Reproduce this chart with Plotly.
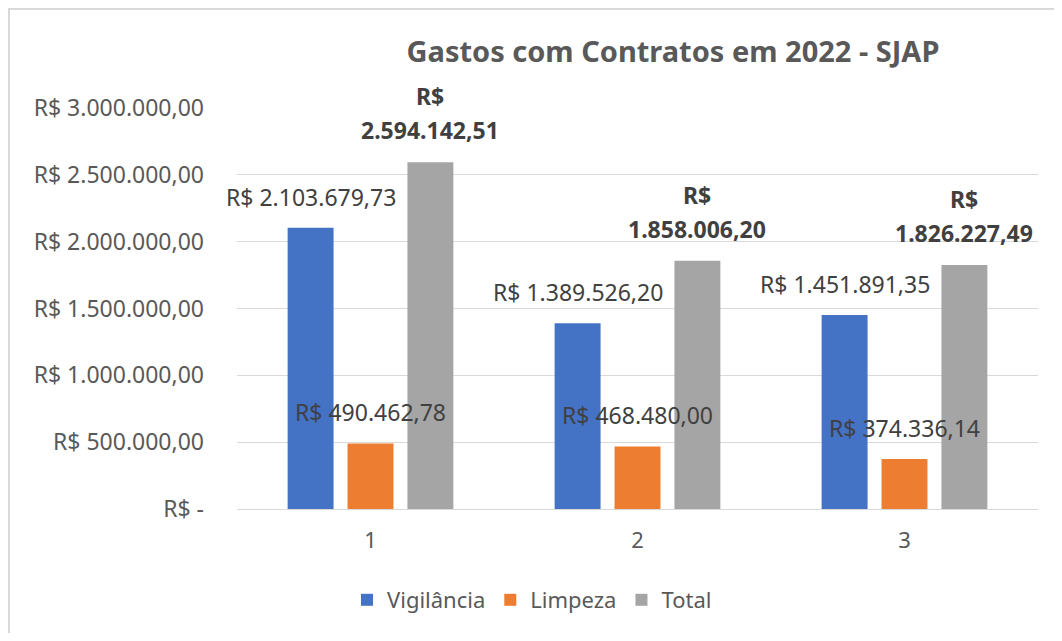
import plotly.graph_objects as go

categories = ["1", "2", "3"]
vigilancia = [2103679.73, 1389526.20, 1451891.35]
limpeza = [490462.78, 468480.00, 374336.14]
total = [2594142.51, 1858006.20, 1826227.49]
series_names = ["Vigilância", "Limpeza", "Total"]
series_colors = ["#4472C4", "#ED7D31", "#A5A5A5"]

tick_vals = [0, 500000, 1000000, 1500000, 2000000, 2500000, 3000000]
tick_text = ["R$ -", "R$ 500.000,00", "R$ 1.000.000,00", "R$ 1.500.000,00",
             "R$ 2.000.000,00", "R$ 2.500.000,00", "R$ 3.000.000,00"]


def brl(v):
    s = f"{v:,.2f}"
    return s.replace(",", "X").replace(".", ",").replace("X", ".")


FONT = "Noto Sans"
LABEL_COLOR = "#404040"
TICK_COLOR = "#595959"

# page has an 8px body margin; figure coords = screen coords - 8
OFF = 8
W, H = 1062 - 2 * OFF, 641 - 2 * OFF
ml = 237 - OFF
mr = W - (1038 - OFF)
mt = 108 - OFF
mb = H - (509 - OFF)
pw, ph = W - ml - mr, H - mt - mb
BARGAP = 0.327
BARGROUPGAP = 0.233


def px_x(p):
    return (p - OFF - ml) / pw


def px_y(p):
    return (H - mb - (p - OFF)) / ph


fig = go.Figure()
for name, vals, col in zip(series_names, [vigilancia, limpeza, total], series_colors):
    fig.add_trace(go.Bar(name=name, x=categories, y=vals, marker_color=col,
                         marker_line_width=0, hoverinfo="x+y"))

slot_px = pw / len(categories) * (1 - BARGAP) / 3
annotations = []
for si, vals in enumerate([vigilancia, limpeza, total]):
    for ci, v in enumerate(vals):
        common = dict(x=ci, y=v, xref="x", yref="y", showarrow=False,
                      xshift=(si - 1) * slot_px, yanchor="middle",
                      xanchor="center")
        if si < 2:
            annotations.append(dict(text=f"R$ {brl(v)}", yshift=31,
                                    font=dict(family=FONT, size=23, color=LABEL_COLOR),
                                    **common))
        else:
            annotations.append(dict(text=f"<b>{brl(v)}</b>", yshift=32,
                                    font=dict(family=FONT, size=23, color=LABEL_COLOR),
                                    **common))
            annotations.append(dict(text="<b>R$</b>", yshift=66,
                                    font=dict(family=FONT, size=23, color=LABEL_COLOR),
                                    **common))

fig.update_layout(
    width=W, height=H,
    margin=dict(l=ml, r=mr, t=mt, b=mb, autoexpand=False),
    paper_bgcolor="white", plot_bgcolor="white",
    barmode="group", bargap=BARGAP, bargroupgap=BARGROUPGAP,
    title=dict(text="<b>Gastos com Contratos em 2022 - SJAP</b>",
               x=px_x(673), xanchor="center", xref="paper",
               y=1 - (52 - OFF) / H, yanchor="middle",
               font=dict(family=FONT, size=29, color=TICK_COLOR)),
    font=dict(family=FONT, color=TICK_COLOR),
    legend=dict(orientation="h", x=px_x(532), xanchor="center",
                y=px_y(600), yanchor="middle",
                font=dict(family=FONT, size=22, color=TICK_COLOR),
                itemwidth=30, traceorder="normal"),
    showlegend=True,
    annotations=annotations,
)
fig.update_yaxes(range=[0, 3000000], tickvals=tick_vals, ticktext=tick_text,
                 showgrid=True, gridcolor="#D9D9D9", gridwidth=1,
                 zeroline=True, zerolinecolor="#D9D9D9", zerolinewidth=1,
                 tickfont=dict(family=FONT, size=23, color=TICK_COLOR),
                 ticks="", showline=False, ticklabelstandoff=32)
fig.update_xaxes(type="category", range=[-0.5, len(categories) - 0.5],
                 showgrid=False, showline=False, ticks="",
                 tickfont=dict(family=FONT, size=22, color=TICK_COLOR),
                 ticklabelstandoff=16)

# chart border (top and left edges)
fig.add_shape(type="line", xref="paper", yref="paper",
              x0=px_x(OFF), x1=px_x(1062 + 20), y0=px_y(OFF + 1), y1=px_y(OFF + 1),
              line=dict(color="#D9D9D9", width=2))
fig.add_shape(type="line", xref="paper", yref="paper",
              x0=px_x(OFF + 1), x1=px_x(OFF + 1), y0=px_y(OFF), y1=px_y(641 + 20),
              line=dict(color="#D9D9D9", width=2))

fig.write_html("out.html")
